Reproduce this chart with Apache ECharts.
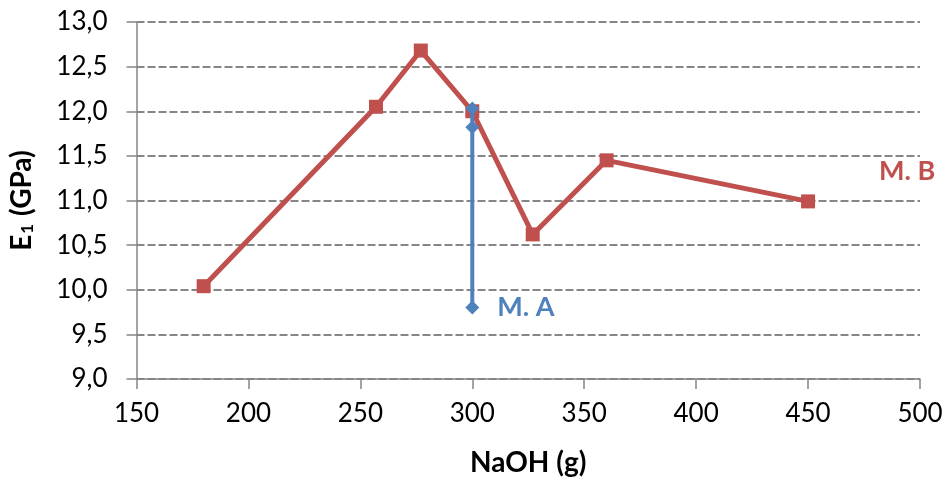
<!DOCTYPE html>
<html>
<head>
<meta charset="utf-8">
<script src="https://cdn.jsdelivr.net/npm/echarts@6/dist/echarts.min.js"></script>
<style>
  html, body { margin: 0; padding: 0; background: #fff; }
  #chart { width: 950px; height: 486px; }
</style>
</head>
<body>
<div id="chart"></div>
<script>
// NaOH mass (g) and modulus E1 (GPa) for the two methods
const naohB = [180, 257, 277, 300, 327, 360, 450];
const modulusB = [10.04, 12.05, 12.68, 12.0, 10.62, 11.45, 10.99];
const naohA = [300, 300, 300];
const modulusA = [12.03, 11.82, 9.80];
const labelA = 'M. A';
const labelB = 'M. B';

const RED = '#C0504D';
const BLUE = '#4F81BD';
const AXIS = '#868686';
const FONT = 'Lato, "Open Sans", sans-serif';

function pairs(xs, ys) { return xs.map((x, i) => [x, ys[i]]); }

const dataB = pairs(naohB, modulusB).map((p, i, arr) => {
  if (i !== arr.length - 1) return p;
  return {
    value: p,
    label: {
      show: true, formatter: labelB, position: 'right', offset: [59, -30],
      color: RED, fontSize: 27, fontWeight: 'bold', fontFamily: FONT
    }
  };
});
const dataA = pairs(naohA, modulusA).map((p, i, arr) => {
  if (i !== arr.length - 1) return p;
  return {
    value: p,
    label: {
      show: true, formatter: labelA, position: 'right', distance: 18,
      color: BLUE, fontSize: 27, fontWeight: 'bold', fontFamily: FONT
    }
  };
});

const chart = echarts.init(document.getElementById('chart'), null, { renderer: 'canvas' });
chart.setOption({
  animation: false,
  backgroundColor: '#fff',
  grid: { left: 136, right: 30, top: 22, bottom: 107, containLabel: false },
  xAxis: {
    type: 'value', min: 150, max: 500, interval: 50,
    name: 'NaOH (g)', nameLocation: 'middle', nameGap: 70,
    nameTextStyle: { fontSize: 28, fontWeight: 'bold', color: '#000', fontFamily: FONT },
    axisLine: { show: true, lineStyle: { color: AXIS, width: 1.5 } },
    axisTick: { show: true, length: 10, lineStyle: { color: AXIS, width: 1.5 } },
    axisLabel: { fontSize: 26, color: '#000', margin: 22, fontFamily: FONT },
    splitLine: { show: false }
  },
  yAxis: {
    type: 'value', min: 9, max: 13, interval: 0.5,
    name: '{a|E}{s|1}{a| (GPa)}', nameLocation: 'middle', nameGap: 100,
    nameTextStyle: {
      rich: {
        a: { fontSize: 28, fontWeight: 'bold', color: '#000', fontFamily: FONT },
        s: { fontSize: 17, fontWeight: 'bold', color: '#000', fontFamily: FONT, verticalAlign: 'bottom', padding: [12, 1, 0, 1] }
      }
    },
    axisLine: { show: true, lineStyle: { color: AXIS, width: 1.5 } },
    axisTick: { show: true, length: 10, lineStyle: { color: AXIS, width: 1.5 } },
    axisLabel: {
      fontSize: 26, color: '#000', margin: 29, fontFamily: FONT,
      formatter: v => v.toFixed(1).replace('.', ',')
    },
    splitLine: { show: true, lineStyle: { color: AXIS, width: 2, type: [8, 3] } }
  },
  series: [
    {
      name: labelB, type: 'line', data: dataB,
      symbol: 'rect', symbolSize: 14,
      lineStyle: { color: RED, width: 5 },
      itemStyle: { color: RED },
      z: 2
    },
    {
      name: labelA, type: 'line', data: dataA,
      symbol: 'diamond', symbolSize: 14,
      lineStyle: { color: BLUE, width: 4 },
      itemStyle: { color: BLUE },
      z: 3
    }
  ]
});
</script>
</body>
</html>
